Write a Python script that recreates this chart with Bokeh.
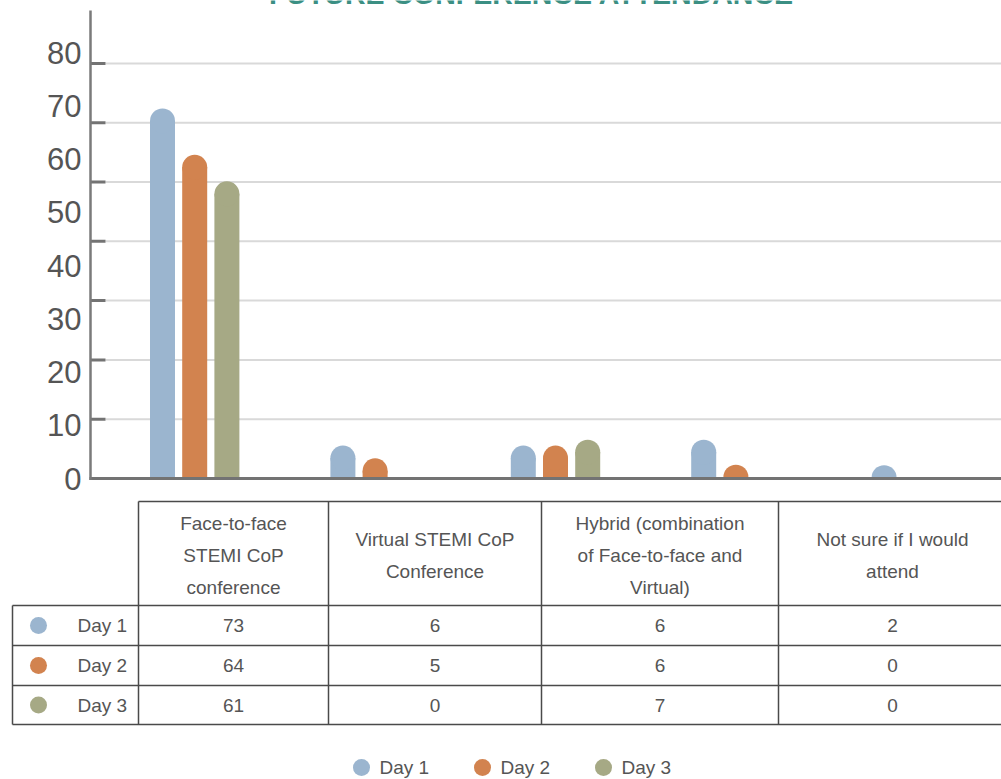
import numpy as np
from bokeh.plotting import figure
from bokeh.models import Range1d
from bokeh.layouts import column
from bokeh.embed import file_html
from bokeh.resources import INLINE
from bokeh.core.properties import value

# ---------------- data ----------------
title_text = "FUTURE CONFERENCE ATTENDANCE"
series = ["Day 1", "Day 2", "Day 3"]
colors = ["#9bb5cf", "#d2834f", "#a6a985"]

# bar heights as drawn in the picture (read against the y-axis labels), five bar groups
bar_day1 = [69.5, 6.2, 6.2, 7.3, 2.5]
bar_day2 = [60.8, 3.8, 6.2, 2.6, 0.0]
bar_day3 = [55.8, 0.0, 7.3, 0.0, 0.0]
y_tick_labels = [0, 10, 20, 30, 40, 50, 60, 70, 80]

# data table under the chart
table_headers = [
    ["Face-to-face", "STEMI CoP", "conference"],
    ["Virtual STEMI CoP", "Conference"],
    ["Hybrid (combination", "of Face-to-face and", "Virtual)"],
    ["Not sure if I would", "attend"],
]
table_day1 = [73, 6, 6, 2]
table_day2 = [64, 5, 6, 0]
table_day3 = [61, 0, 7, 0]

# ---------------- style / layout ----------------
FONT = "Liberation Sans"
TEXT = "#555555"
TABLE_FS = "19px"
W = 1001
H_CHART = 494
H_TABLE = 779 - H_CHART
AXIS_X_PX, AXIS_TOP_PX = 90, 10
Y0_PX = 478          # pixel row of value 0
PX_PER_UNIT = 5.325  # pixels per y unit
X0_PX = 104          # pixel where first group starts
GROUP_PX = 180.4     # pixel width of one group
BAR_PX = 25
BAR_STEP_PX = 32.2
GRID_STEP_PX = 59.3
N_GRID = 7
TICK_LEN_PX = 15


def xd(px):
    return (px - X0_PX) / GROUP_PX


def yd(px):
    return (Y0_PX - px) / PX_PER_UNIT


x_start, x_end = xd(0), xd(W)
y_start, y_end = yd(H_CHART), yd(0)

p = figure(width=W, height=H_CHART, output_backend="svg", toolbar_location=None,
           x_range=Range1d(x_start, x_end), y_range=Range1d(y_start, y_end),
           x_axis_location=None, y_axis_location=None, min_border=0,
           outline_line_color=None, background_fill_color="white")
p.xgrid.visible = False
p.ygrid.visible = False

# grid lines and inner tick marks
grid_vals = [k * GRID_STEP_PX / PX_PER_UNIT for k in range(1, N_GRID + 1)]
p.segment(x0=[xd(AXIS_X_PX + TICK_LEN_PX)] * N_GRID, x1=[x_end] * N_GRID, y0=grid_vals, y1=grid_vals,
          line_color="#d9d9d9", line_width=2)
p.segment(x0=[xd(AXIS_X_PX)] * N_GRID, x1=[xd(AXIS_X_PX + TICK_LEN_PX)] * N_GRID,
          y0=grid_vals, y1=grid_vals, line_color="#737373", line_width=3)

# rounded bars
r_data = (BAR_PX / 2) / PX_PER_UNIT
offsets = [-BAR_STEP_PX / GROUP_PX, 0.0, BAR_STEP_PX / GROUP_PX]
for vals, col, off in zip([bar_day1, bar_day2, bar_day3], colors, offsets):
    v = np.array(vals, dtype=float)
    xs = np.arange(len(v)) + 0.5 + off
    m = v > 0
    p.vbar(x=xs[m], bottom=0, top=np.maximum(v[m] - r_data, 0), width=BAR_PX / GROUP_PX,
           fill_color=col, line_color=None)
    p.scatter(x=xs[m], y=v[m] - r_data, size=BAR_PX, marker="circle",
              fill_color=col, line_color=None)

# hide anything below the baseline
p.quad(left=[xd(AXIS_X_PX + 1)], right=[x_end], bottom=[y_start], top=[0],
       fill_color="white", line_color=None)

# axes lines
p.segment(x0=[xd(AXIS_X_PX - 1)], x1=[x_end], y0=[0], y1=[0], line_color="#737373", line_width=3)
p.segment(x0=[xd(AXIS_X_PX)], x1=[xd(AXIS_X_PX)], y0=[yd(Y0_PX + 1.5)], y1=[yd(AXIS_TOP_PX)],
          line_color="#7a7a7a", line_width=2.5)

# y tick labels
p.text(x=[xd(81)] * len(y_tick_labels), y=y_tick_labels, text=[str(v) for v in y_tick_labels],
       text_align="right", text_baseline="middle", text_font=value(FONT),
       text_font_size=value("31px"), text_color=TEXT)

# cut-off title at the very top
p.text(x=[xd(531)], y=[yd(9)], text=[title_text], text_align="center",
       text_baseline="bottom", text_font=value(FONT), text_font_size=value("28.5px"),
       text_font_style="bold", text_color="#3b8f83")

# ---------------- table ----------------
t = figure(width=W, height=H_TABLE, output_backend="svg", toolbar_location=None,
           x_range=Range1d(0, W), y_range=Range1d(779, H_CHART),
           x_axis_location=None, y_axis_location=None,
           min_border=0, outline_line_color=None, background_fill_color="white")
t.xgrid.visible = False
t.ygrid.visible = False

col_edges = [12, 138, 328, 541, 778, 1006]
row_edges = [501, 605, 645, 685, 724]
LINE = "#4a4a4a"

# horizontal lines
t.segment(x0=[col_edges[1]], x1=[col_edges[-1]], y0=[row_edges[0]], y1=[row_edges[0]],
          line_color=LINE, line_width=1.5)
t.segment(x0=[col_edges[0]] * 4, x1=[col_edges[-1]] * 4, y0=row_edges[1:], y1=row_edges[1:],
          line_color=LINE, line_width=1.5)
# vertical lines
t.segment(x0=[col_edges[0]], x1=[col_edges[0]], y0=[row_edges[1]], y1=[row_edges[-1]],
          line_color=LINE, line_width=1.5)
t.segment(x0=col_edges[1:5], x1=col_edges[1:5], y0=[row_edges[0]] * 4, y1=[row_edges[-1]] * 4,
          line_color=LINE, line_width=1.5)

LINE_H = 32
HEADER_CY = 555
hx, hy, ht = [], [], []
for c, lines in enumerate(table_headers):
    cx = (col_edges[c + 1] + col_edges[c + 2]) / 2
    n = len(lines)
    for k, s in enumerate(lines):
        hx.append(cx)
        hy.append(HEADER_CY + (k - (n - 1) / 2) * LINE_H)
        ht.append(s)
t.text(x=hx, y=hy, text=ht, text_align="center", text_baseline="middle",
       text_font=value(FONT), text_font_size=value(TABLE_FS), text_color=TEXT)

vx, vy, vt = [], [], []
for r, row in enumerate([table_day1, table_day2, table_day3]):
    cy = (row_edges[r + 1] + row_edges[r + 2]) / 2
    for c, val in enumerate(row):
        vx.append((col_edges[c + 1] + col_edges[c + 2]) / 2)
        vy.append(cy)
        vt.append(str(val))
t.text(x=vx, y=vy, text=vt, text_align="center", text_baseline="middle",
       text_font=value(FONT), text_font_size=value(TABLE_FS), text_color=TEXT)

row_cy = [(row_edges[r + 1] + row_edges[r + 2]) / 2 for r in range(3)]
t.scatter(x=[38] * 3, y=row_cy, size=17, marker="circle", fill_color=colors, line_color=None)
t.text(x=[77] * 3, y=row_cy, text=series, text_align="left", text_baseline="middle",
       text_font=value(FONT), text_font_size=value(TABLE_FS), text_color=TEXT)

# legend
LEG_X0, LEG_STEP, LEG_Y = 361, 121, 767
lx = [LEG_X0 + i * LEG_STEP for i in range(3)]
t.scatter(x=lx, y=[LEG_Y] * 3, size=17, marker="circle", fill_color=colors, line_color=None)
t.text(x=[x + 18 for x in lx], y=[LEG_Y] * 3, text=series, text_align="left",
       text_baseline="middle", text_font=value(FONT), text_font_size=value(TABLE_FS),
       text_color=TEXT)

layout = column(p, t, spacing=0)
open("out.html", "w").write(file_html(layout, INLINE))
